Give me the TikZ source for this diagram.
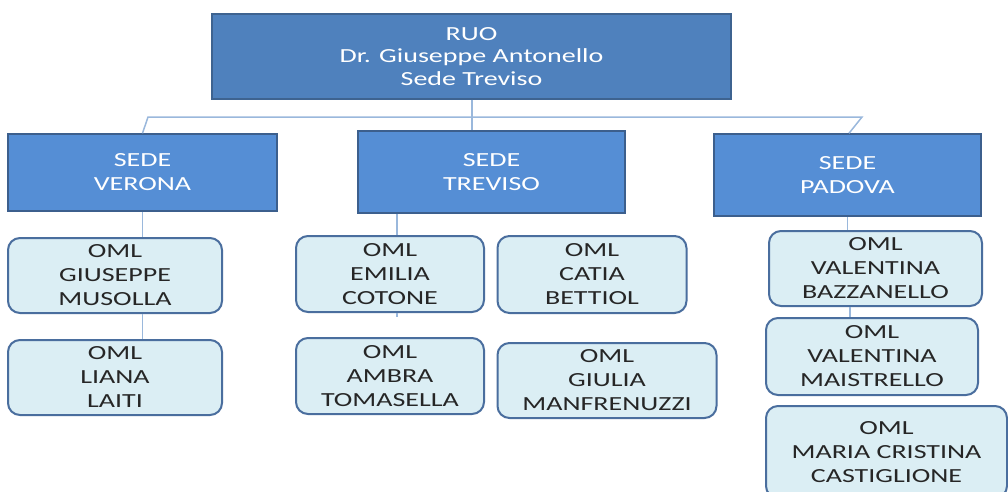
\documentclass[tikz,border=0pt]{standalone}
\usepackage{fontspec}
\setmainfont{Carlito}[FakeStretch=1.4]
\definecolor{ruoFill}{HTML}{4F81BD}
\definecolor{ruoBorder}{HTML}{3E6390}
\definecolor{sedeFill}{HTML}{558ED5}
\definecolor{sedeBorder}{HTML}{3C5F8D}
\definecolor{omlFill}{HTML}{DBEEF4}
\definecolor{omlBorder}{HTML}{4A6E9E}
\definecolor{omlText}{HTML}{262626}
\definecolor{link}{HTML}{9AB8DC}
\tikzset{
  ruobox/.style={draw=ruoBorder, fill=ruoFill, line width=1.5pt, text=white, align=center, inner sep=0pt,
    font=\fontsize{20}{22.5}\selectfont},
  sedebox/.style={draw=sedeBorder, fill=sedeFill, line width=1.5pt, text=white, align=center, inner sep=0pt,
    font=\fontsize{20}{24}\selectfont},
  omlbox/.style={draw=omlBorder, fill=omlFill, line width=2pt, rounded corners=12pt, text=omlText, align=center, inner sep=0pt,
    font=\fontsize{20}{24}\selectfont},
  linkline/.style={draw=link, line width=1.5pt},
}
\begin{document}
\begin{tikzpicture}[x=1pt,y=-1pt]
\useasboundingbox (0,0) rectangle (1008,491);
\fill[white] (0,0) rectangle (1008,491);
% connectors first (behind boxes)
\coordinate (busL) at (148,117);
\coordinate (busM) at (472,117);
\coordinate (busR) at (862,117);
% boxes
\node[ruobox, minimum width=519pt, minimum height=85pt] (ruo) at (471.5,56.5) {RUO\\Dr. Giuseppe Antonello\\Sede Treviso};
\node[sedebox, minimum width=269pt, minimum height=77pt] (ver) at (142.5,172.5) {SEDE\\VERONA};
\node[sedebox, minimum width=267pt, minimum height=82pt] (tre) at (491.5,172) {SEDE\\TREVISO};
\node[sedebox, minimum width=267pt, minimum height=82pt] (pad) at (847.5,175) {SEDE\\PADOVA};
\node[omlbox, minimum width=214pt, minimum height=75pt] (gius) at (115,275.5) {OML\\GIUSEPPE\\MUSOLLA};
\node[omlbox, minimum width=214pt, minimum height=75pt] (lia) at (115,377.5) {OML\\LIANA\\LAITI};
\node[omlbox, minimum width=188pt, minimum height=76pt] (emi) at (390,274) {OML\\EMILIA\\COTONE};
\node[omlbox, minimum width=188pt, minimum height=76pt] (amb) at (390,376) {OML\\AMBRA\\TOMASELLA};
\node[omlbox, minimum width=189pt, minimum height=77pt] (cat) at (592,274.5) {OML\\CATIA\\BETTIOL};
\node[omlbox, minimum width=219pt, minimum height=75pt] (giu) at (607,380.5) {OML\\GIULIA\\MANFRENUZZI};
\node[omlbox, minimum width=213pt, minimum height=75pt] (baz) at (875.5,268.5) {OML\\VALENTINA\\BAZZANELLO};
\node[omlbox, minimum width=212pt, minimum height=77pt] (mai) at (872,356.5) {OML\\VALENTINA\\MAISTRELLO};
\node[omlbox, minimum width=241pt, minimum height=92pt] (cas) at (886.5,452) {OML\\MARIA CRISTINA\\CASTIGLIONE};
% connectors
\begin{scope}[on background layer/.try]
\end{scope}
\draw[linkline] (busM |- ruo.south) -- (busM |- tre.north);
\draw[linkline] (ver.north) -- (busL) -- (busR) -- ([xshift=1.5pt]pad.north);
\draw[linkline] (ver.south) -- (ver.south |- gius.north);
\draw[linkline] (ver.south |- gius.south) -- (ver.south |- lia.north);
\draw[linkline] ([xshift=7pt]emi.north |- tre.south) -- ([xshift=7pt]emi.north);
\draw[linkline] ([xshift=7pt]emi.south) -- ++(0,4);
\draw[linkline] (pad.south) -- (pad.south |- baz.north);
\draw[linkline] ([xshift=2.5pt]pad.south |- baz.south) -- ([xshift=2.5pt]pad.south |- mai.north);
\end{tikzpicture}
\end{document}
